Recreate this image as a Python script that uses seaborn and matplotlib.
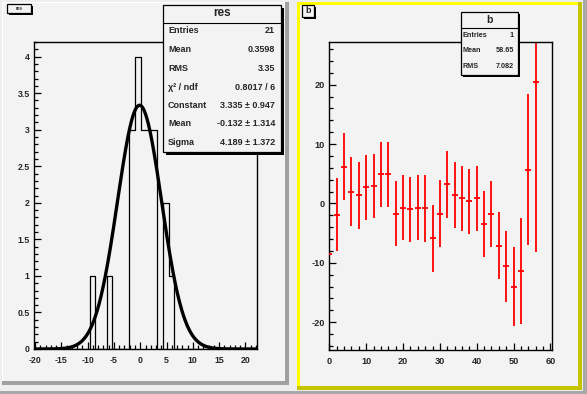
import numpy as np
import pandas as pd
import matplotlib
matplotlib.use("Agg")
import matplotlib.pyplot as plt
import seaborn as sns
from matplotlib.patches import Rectangle
from matplotlib.lines import Line2D
from matplotlib.ticker import MultipleLocator, FuncFormatter

# ---------------- data: left pad (histogram "res" + gaussian fit) ----------------
res_bin_start = -9.62
res_bin_width = 1.075
res_counts = [1, 0, 0, 1, 0, 0, 0, 3, 4, 3, 3, 3, 0, 2, 1]
fit_constant = 3.335
fit_mean = -0.132
fit_sigma = 4.189
res_stat_labels = ["Entries", "Mean", "RMS", "χ² / ndf", "Constant", "Mean", "Sigma"]
res_stat_values = ["21", "0.3598", "3.35", "0.8017 / 6", "3.335 ± 0.947",
                   "-0.132 ± 1.314", "4.189 ± 1.372"]

# ---------------- data: right pad (histogram "b" with errors) ----------------
b_x = [0, 2, 4, 6, 8, 10, 12, 14, 16, 18, 20, 22, 24, 26, 28,
       30, 32, 34, 36, 38, 40, 42, 44, 46, 48, 50, 52, 54, 56]
b_y = [-8.6, -1.9, 6.2, 2.0, 1.35, 2.7, 3.0, 4.9, 4.9, -1.7, -0.7, -1.0, -0.7, -0.85, -5.9,
       -1.7, 3.2, 1.4, 0.85, 0.35, 0.85, -3.5, -1.8, -7.1, -10.6, -14.0, -11.4, 5.7, 20.4]
b_err = [7.0, 6.1, 5.6, 5.8, 5.7, 5.5, 5.4, 5.5, 5.5, 5.4, 5.5, 5.5, 5.5, 5.6, 5.6,
         5.6, 5.7, 5.5, 5.5, 5.5, 5.5, 5.6, 5.5, 5.7, 6.0, 6.7, 9.0, 12.7, 28.6]
b_stat_labels = ["Entries", "Mean", "RMS"]
b_stat_values = ["1", "58.65", "7.082"]

# ---------------- style ----------------
sns.set_style("ticks")
plt.rcParams["font.family"] = ["Liberation Sans", "DejaVu Sans"]
plt.rcParams["font.weight"] = "bold"

W, H = 587, 394
fig = plt.figure(figsize=(W / 100, H / 100), dpi=100)
fig.patch.set_facecolor("#eeeeee")

PAD = "#f3f3f3"


def rect(x0, y0, x1, y1, fc, ec="none", lw=0, z=-5):
    r = Rectangle((x0 / W, 1 - y1 / H), (x1 - x0) / W, (y1 - y0) / H,
                  transform=fig.transFigure, facecolor=fc, edgecolor=ec,
                  linewidth=lw, zorder=z)
    fig.add_artist(r)
    return r


def hline(x0, x1, y, z=6, lw=0.8):
    fig.add_artist(Line2D([x0 / W, x1 / W], [1 - y / H, 1 - y / H],
                          transform=fig.transFigure, color="black", lw=lw, zorder=z))


# canvas bevel
rect(583, 0, 587, 394, "#a8a8a8", z=-9)
rect(0, 391, 587, 394, "#a8a8a8", z=-9)
# left pad
rect(2, 2, 289, 385, "#a0a0a0", z=-8)
rect(2, 2, 285, 381, "#ffffff", z=-7)
rect(3, 3, 285, 381, PAD, z=-6)
# right pad (highlighted)
rect(297, 2, 582, 390, "#c4c400", z=-8)
rect(297, 2, 578, 386, "#ffff00", z=-7)
rect(300, 5, 578, 386, PAD, z=-6)

# ---------------- left axes ----------------
axL = fig.add_axes([34 / W, 1 - 349 / H, 223 / W, 307 / H])
axL.set_facecolor("none")
pad_n = 12
counts_full = [0] * pad_n + res_counts + [0] * 30
edges = (res_bin_start + res_bin_width * (np.arange(len(counts_full) + 1) - pad_n)).tolist()
centers = [(a + b) / 2 for a, b in zip(edges[:-1], edges[1:])]
hist_df = pd.DataFrame({"x": centers, "w": counts_full})
sns.histplot(data=hist_df, x="x", weights="w", bins=edges, element="step",
             fill=False, color="black", linewidth=0.9, ax=axL)

xs = np.linspace(-20.2, 22.2, 500)
fit_df = pd.DataFrame({"x": xs,
                       "y": fit_constant * np.exp(-0.5 * ((xs - fit_mean) / fit_sigma) ** 2)})
sns.lineplot(data=fit_df, x="x", y="y", color="black", linewidth=2.4, ax=axL)

axL.set_xlim(-20.2, 22.2)
axL.set_ylim(0, 4.2)
axL.xaxis.set_major_locator(MultipleLocator(5))
axL.xaxis.set_minor_locator(MultipleLocator(1))
axL.yaxis.set_major_locator(MultipleLocator(0.5))
axL.yaxis.set_minor_locator(MultipleLocator(0.1))

# ---------------- right axes ----------------
axR = fig.add_axes([329.3 / W, 1 - 350 / H, 223 / W, 308.3 / H])
axR.set_facecolor("none")
b_df = pd.DataFrame({"x": b_x, "y": b_y, "e": b_err})
axR.errorbar(b_df["x"], b_df["y"], yerr=b_df["e"], fmt="none", ecolor="red",
             elinewidth=1.3, capsize=0)
sns.scatterplot(data=b_df, x="x", y="y", marker="_", s=14, color="red",
                linewidth=1.3, ax=axR, zorder=3)
axR.set_xlim(0, 60.5)
axR.set_ylim(-24.7, 27.25)
axR.xaxis.set_major_locator(MultipleLocator(10))
axR.xaxis.set_minor_locator(MultipleLocator(2))
axR.yaxis.set_major_locator(MultipleLocator(10))
axR.yaxis.set_minor_locator(MultipleLocator(2))

fmt = FuncFormatter(lambda v, p: f"{v:g}")
for ax, lsize in ((axL, 6.3), (axR, 6.6)):
    ax.set_xlabel("")
    ax.set_ylabel("")
    ax.xaxis.set_major_formatter(fmt)
    ax.yaxis.set_major_formatter(fmt)
    for s in ax.spines.values():
        s.set_visible(True)
        s.set_linewidth(1.0)
        s.set_color("black")
    ax.tick_params(which="both", direction="in", top=False, right=False,
                   width=0.9, color="black", labelsize=lsize)
    ax.tick_params(which="major", length=5)
    ax.tick_params(which="minor", length=2.6)
    ax.tick_params(axis="x", which="major", pad=5)
    ax.tick_params(axis="y", which="major", pad=3)
    for lab in ax.get_xticklabels() + ax.get_yticklabels():
        lab.set_fontweight("bold")

# ---------------- stats boxes ----------------
# left
rect(166, 8, 284, 155, "black", z=4)
rect(163, 5, 281, 152, PAD, ec="black", lw=0.9, z=5)
hline(163, 281, 22.7)
fig.text(222 / W, 1 - 13.5 / H, "res", ha="center", va="center", fontsize=8.5,
         fontweight="bold", zorder=7)
rows_y = [30.7, 50, 68.3, 87.3, 105.3, 124, 142.3]
for lab, val, y in zip(res_stat_labels, res_stat_values, rows_y):
    fig.text(168 / W, 1 - y / H, lab, ha="left", va="center", fontsize=6.5,
             fontweight="bold", zorder=7)
    fig.text(275 / W, 1 - y / H, val, ha="right", va="center", fontsize=6.5,
             fontweight="bold", zorder=7)

# right
rect(463, 14, 520, 77, "black", z=4)
rect(461, 12, 518, 75, PAD, ec="black", lw=0.9, z=5)
hline(461, 518, 28.3)
fig.text(489.5 / W, 1 - 20 / H, "b", ha="center", va="center", fontsize=7.5,
         fontweight="bold", zorder=7)
for lab, val, y in zip(b_stat_labels, b_stat_values, [35.7, 50.7, 66.3]):
    fig.text(463 / W, 1 - y / H, lab, ha="left", va="center", fontsize=5.2,
             fontweight="bold", zorder=7)
    fig.text(514 / W, 1 - y / H, val, ha="right", va="center", fontsize=5.2,
             fontweight="bold", zorder=7)

# ---------------- pad title boxes ----------------
rect(9, 6, 33, 15, "black", z=4)
rect(7, 4, 31, 13, PAD, ec="black", lw=0.9, z=5)
fig.text(19 / W, 1 - 8.6 / H, "res", ha="center", va="center", fontsize=3.3,
         fontweight="bold", zorder=7)
rect(304, 7, 316, 19, "black", z=4)
rect(302, 5, 314, 17, PAD, ec="black", lw=0.9, z=5)
fig.text(308 / W, 1 - 10.8 / H, "b", ha="center", va="center", fontsize=6.5,
         fontweight="bold", zorder=7)

fig.savefig("out.png", dpi=100, facecolor=fig.get_facecolor())
